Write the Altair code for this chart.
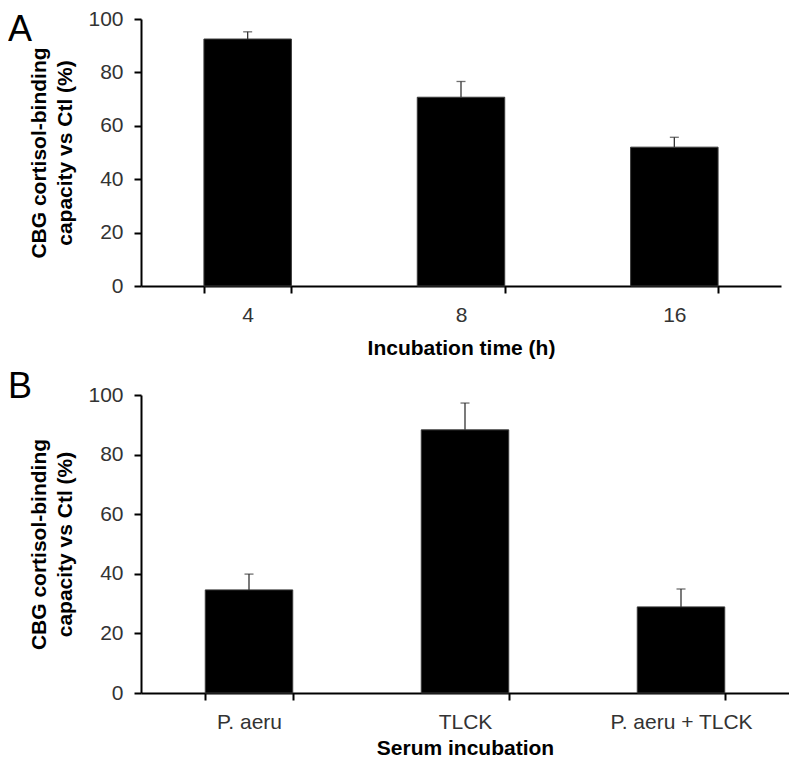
import altair as alt
import pandas as pd

# Panel A data
hours = ["4", "8", "16"]
hours_mean = [92.5, 70.7, 52.0]
hours_err = [95.2, 76.6, 55.7]

# Panel B data
serum = ["P. aeru", "TLCK", "P. aeru + TLCK"]
serum_mean = [34.6, 88.3, 28.9]
serum_err = [39.9, 97.3, 34.9]

y_ticks = [0, 20, 40, 60, 80, 100]
y_title = ["CBG cortisol-binding", "capacity vs Ctl (%)"]

FONT = "Liberation Sans"


def panel(cats, means, errs, xtitle, letter, width, height, letter_y, pad_inner,
          xtitle_pad):
    df = pd.DataFrame({"cat": cats, "mean": means, "err": errs})
    xscale = alt.Scale(paddingInner=pad_inner, paddingOuter=pad_inner / 2)
    x = alt.X(
        "cat:N", sort=cats, title=xtitle, scale=xscale,
        axis=alt.Axis(labelAngle=0, tickBand="extent", labelPadding=11,
                      titlePadding=xtitle_pad),
    )
    xs = alt.X("cat:N", sort=cats, scale=xscale)
    y = alt.Y(
        "mean:Q", scale=alt.Scale(domain=[0, 100]),
        axis=alt.Axis(values=y_ticks, title=y_title, labelPadding=11,
                      titlePadding=12, titleLineHeight=26),
    )
    base = alt.Chart(df)
    bars = base.mark_bar(color="black", stroke="#3a3a3a", strokeWidth=1).encode(x=x, y=y)
    rule = base.mark_rule(color="#333333", strokeWidth=1.3).encode(
        x=xs, y="mean:Q", y2="err:Q")
    cap = base.mark_tick(color="#333333", size=9, thickness=1.3,
                         orient="horizontal").encode(x=xs, y="err:Q")
    lab = alt.Chart(pd.DataFrame({"t": [letter]})).mark_text(
        font=FONT, fontSize=36, align="left", baseline="alphabetic", color="black"
    ).encode(text="t:N", x=alt.value(-133), y=alt.value(letter_y))
    return alt.layer(bars, rule, cap, lab).properties(width=width, height=height)


a = panel(hours, hours_mean, hours_err, "Incubation time (h)", "A", 640, 267, 22, 0.59, 12)
b = panel(serum, serum_mean, serum_err, "Serum incubation", "B", 648, 298, 3, 0.595, 5)

chart = (
    alt.vconcat(a, b, spacing=11)
    .properties(padding=0)
    .configure_view(stroke=None)
    .configure_axis(
        grid=False,
        domainColor="black", domainWidth=2,
        tickColor="black", tickWidth=2, tickSize=7,
        labelFont=FONT, labelFontSize=21, labelColor="#333333",
        titleFont=FONT, titleFontSize=21, titleFontWeight="bold", titleColor="black",
    )
)

chart.save("out.html", embed_options={"renderer": "svg", "actions": False})
